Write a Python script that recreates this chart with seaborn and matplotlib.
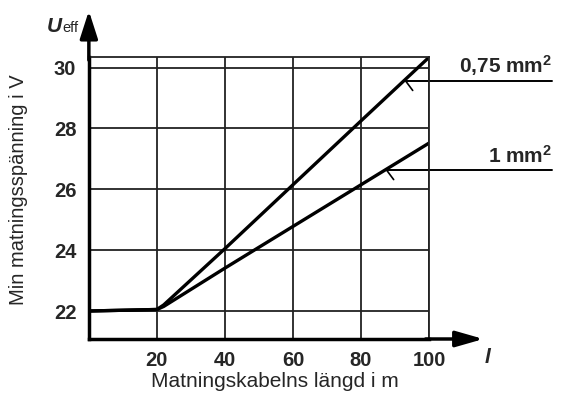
import pandas as pd
import matplotlib
matplotlib.use("Agg")
import matplotlib.pyplot as plt
import seaborn as sns

# Data
lengths = [0, 20, 22, 40, 60, 80, 100]
u_075 = [22.0, 22.05, 22.2, 24.05, 26.15, 28.25, 30.34]
u_1 = [22.0, 22.05, 22.15, 23.41, 24.78, 26.15, 27.52]
x_ticks = [20, 40, 60, 80, 100]
y_ticks = [22, 24, 26, 28, 30]
series_labels = ["0,75 mm", "1 mm"]
# where the leader lines meet the curves
leaders = [(93.2, 29.55), (87.6, 26.62)]

df = pd.DataFrame({
    "Längd": lengths * 2,
    "U": u_075 + u_1,
    "Kabel": [series_labels[0]] * len(lengths) + [series_labels[1]] * len(lengths),
})

sns.set_theme(style="white")
plt.rcParams["font.family"] = ["Liberation Sans", "DejaVu Sans"]
plt.rcParams["mathtext.fontset"] = "custom"
plt.rcParams["mathtext.rm"] = "Liberation Sans"
plt.rcParams["mathtext.bf"] = "Liberation Sans:bold"
plt.rcParams["mathtext.it"] = "Liberation Sans:italic"

fig = plt.figure(figsize=(5.66, 3.94), dpi=100)
ax = fig.add_axes([0.157, 0.1396, 0.601, 0.715])

sns.lineplot(data=df, x="Längd", y="U", units="Kabel", estimator=None,
             color="black", lw=2.4, legend=False, ax=ax)

ax.set_xlim(0, 100)
ax.set_ylim(21.08, 30.34)
ax.set_xticks(x_ticks)
ax.set_yticks(y_ticks)
ax.set_xticklabels([str(t) for t in x_ticks], fontsize=14.5, fontweight="bold")
ax.set_yticklabels([str(t) for t in y_ticks], fontsize=14.5, fontweight="bold")
ax.tick_params(axis="x", length=0, pad=9)
ax.tick_params(axis="y", length=0, pad=9)
ax.grid(True, color="#222222", lw=1.3)

for s in ["top", "right"]:
    ax.spines[s].set_color("#222222")
    ax.spines[s].set_linewidth(1.3)
for s in ["left", "bottom"]:
    ax.spines[s].set_color("black")
    ax.spines[s].set_linewidth(2.5)

ax.set_xlabel("Matningskabelns längd i m", fontsize=15)
ax.set_ylabel("Min matningsspänning i V", fontsize=14.5)
ax.xaxis.set_label_coords(0.547, -0.118)
ax.yaxis.set_label_coords(-0.179, 0.53)

# axis arrows
ax.annotate("", xy=(0, 1.165), xytext=(0, 0.99), xycoords="axes fraction",
            arrowprops=dict(arrowstyle="-|>,head_length=1.4,head_width=0.45",
                            color="black", lw=2.5, shrinkA=0, shrinkB=0))
ax.annotate("", xy=(1.16, 0), xytext=(0.99, 0), xycoords="axes fraction",
            arrowprops=dict(arrowstyle="-|>,head_length=1.4,head_width=0.4",
                            color="black", lw=2.5, shrinkA=0, shrinkB=0))

fig.text(47 / 566, 1 - 32 / 394, "U", fontsize=15, fontweight="bold",
         fontstyle="italic", ha="left", va="baseline")
fig.text(62 / 566, 1 - 32 / 394, "eff", fontsize=10.5, ha="left", va="baseline")
fig.text(488 / 566, 1 - 363 / 394, "l", fontsize=15, fontweight="bold",
         fontstyle="italic", ha="center", va="baseline")

# leader lines with labels
for (lx, ly), lab in zip(leaders, series_labels):
    ax.plot([lx, 136.2], [ly, ly], color="black", lw=1.4, clip_on=False)
    ax.plot([lx, lx + 2.0], [ly, ly - 0.3], color="black", lw=1.2)
    ax.text(136.2, ly + 0.12, lab + r"$^{\mathbf{2}}$", fontsize=15, fontweight="bold",
            ha="right", va="bottom")

fig.savefig("out.png", dpi=100)
